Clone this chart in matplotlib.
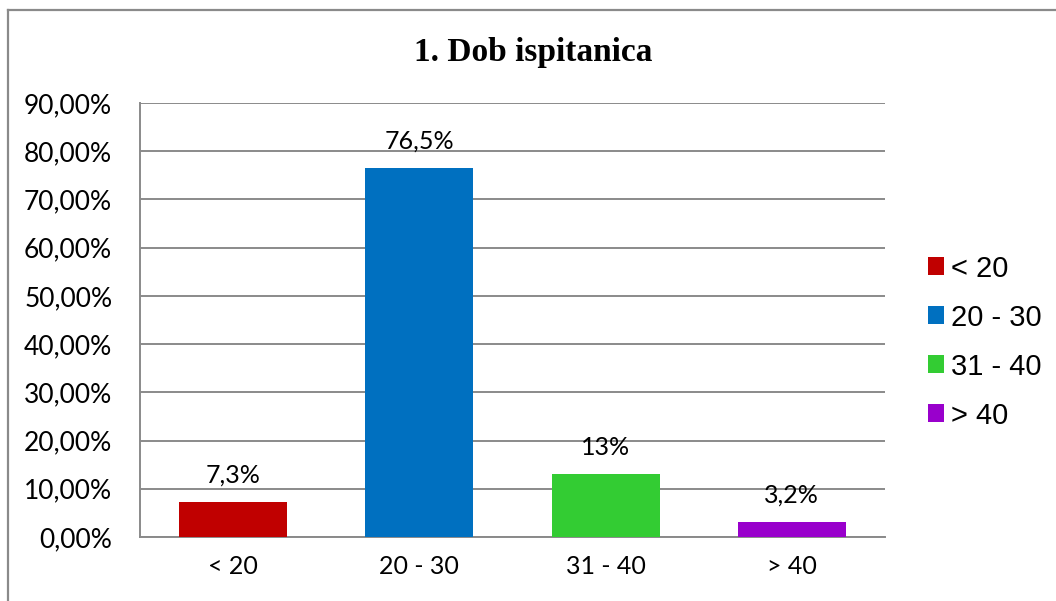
import matplotlib
matplotlib.use("Agg")
import matplotlib.pyplot as plt
from matplotlib.patches import Patch
from matplotlib.lines import Line2D
from matplotlib.ticker import FuncFormatter, MultipleLocator

# data
categories = ["< 20", "20 - 30", "31 - 40", "> 40"]
values = [7.3, 76.5, 13.0, 3.2]
value_labels = ["7,3%", "76,5%", "13%", "3,2%"]
colors = ["#C00000", "#0070C0", "#33CC33", "#9900CC"]
title = "1. Dob ispitanica"

fig = plt.figure(figsize=(10.56, 6.01), dpi=100)
ax = fig.add_axes([140 / 1056, 1 - 537 / 601, (885 - 140) / 1056, (537 - 103) / 601])

x = range(len(categories))
bars = ax.bar(x, values, width=0.58, color=colors, zorder=3)
for b, lab in zip(bars, value_labels):
    ax.annotate(lab, (b.get_x() + b.get_width() / 2, b.get_height()),
                xytext=(0, 11), textcoords="offset points", ha="center", va="bottom",
                fontsize=18, family="Lato", zorder=4)

ax.set_xlim(-0.5, len(categories) - 0.5)
ax.set_ylim(0, 90)
ax.yaxis.set_major_locator(MultipleLocator(10))
ax.yaxis.set_major_formatter(FuncFormatter(lambda v, p: f"{v:.2f}".replace(".", ",") + "%"))
ax.set_xticks(list(x))
ax.set_xticklabels(categories)
ax.tick_params(axis="both", length=0)
ax.tick_params(axis="y", pad=20, labelsize=19)
ax.tick_params(axis="x", pad=13, labelsize=18)
for t in ax.get_xticklabels() + ax.get_yticklabels():
    t.set_family("Lato")
ax.grid(axis="y", color="#8a8a8a", lw=1.4, zorder=1)
for s in ("top", "right"):
    ax.spines[s].set_visible(False)
for s in ("left", "bottom"):
    ax.spines[s].set_color("#8a8a8a")
    ax.spines[s].set_linewidth(1.4)

fig.text(533 / 1056, 1 - 53 / 601, title, ha="center", va="center",
         fontsize=24, fontweight="bold", family="Liberation Serif")

handles = [Patch(facecolor=c, edgecolor="none") for c in colors]
fig.legend(handles, categories, loc="center left", bbox_to_anchor=(916 / 1056, 1 - 342 / 601),
           frameon=False, prop={"family": "Liberation Sans", "size": 21},
           handlelength=0.55, handleheight=0.55, handletextpad=0.25, labelspacing=0.72,
           borderaxespad=0)

# outer chart border (top and left edges visible)
fig.add_artist(Line2D([8 / 1056, 1.0], [1 - 10 / 601, 1 - 10 / 601], transform=fig.transFigure,
                      color="#8a8a8a", lw=1.6))
fig.add_artist(Line2D([8 / 1056, 8 / 1056], [0.0, 1 - 10 / 601], transform=fig.transFigure,
                      color="#8a8a8a", lw=1.6))

fig.savefig("out.png", dpi=100)
